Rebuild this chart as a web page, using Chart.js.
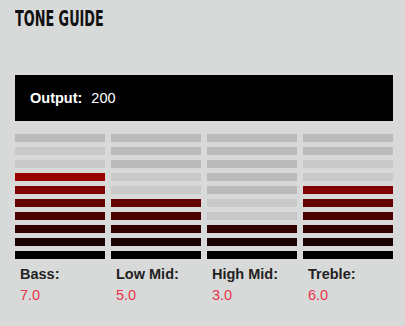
<!DOCTYPE html>
<html>
<head>
<meta charset="utf-8">
<script src="https://cdn.jsdelivr.net/npm/chart.js@4/dist/chart.umd.min.js"></script>
<style>
  html, body { margin: 0; padding: 0; }
  body { width: 405px; height: 326px; background: #d7dad9; position: relative; overflow: hidden;
         font-family: "Liberation Sans", Arial, sans-serif; }
  #title { position: absolute; left: 15px; top: 7px; font-family: "DejaVu Sans Condensed", "DejaVu Sans", sans-serif;
           font-weight: bold; font-size: 20.5px; color: #111; white-space: nowrap; transform-origin: 0 0; }
  #output { position: absolute; left: 15px; top: 75px; width: 378px; height: 46px; background: #000; color: #fff;
            font-size: 14.5px; line-height: 46px; box-sizing: border-box; padding-left: 15px; }
  #output b { margin-right: 9px; }
  #wrap { position: absolute; left: 12px; top: 131px; width: 384px; height: 130px; }
  #labels { position: absolute; left: 15px; top: 266px; display: flex; gap: 6px; }
  .cell { width: 90px; box-sizing: border-box; padding-left: 5px; font-size: 14.5px; }
  .cell .name { font-weight: bold; color: #222; line-height: 17px; }
  .cell .val { color: #e8334b; line-height: 17px; margin-top: 4px; }
</style>
</head>
<body>
<div id="title">TONE GUIDE</div>
<div id="output"><b>Output:</b><span id="outVal"></span></div>
<div id="wrap"><canvas id="toneChart"></canvas></div>
<div id="labels"></div>
<script>
var categories = ['Bass:', 'Low Mid:', 'High Mid:', 'Treble:'];
var toneValues = [7.0, 5.0, 3.0, 6.0];
var outputValue = 200;
var levels = [1, 2, 3, 4, 5, 6, 7, 8, 9, 10];

// squash the title to the narrow look of the original
var t = document.getElementById('title');
t.style.transform = 'scaleX(' + (89 / t.scrollWidth) + ')';

document.getElementById('outVal').textContent = outputValue;

var labelsDiv = document.getElementById('labels');
for (var i = 0; i < categories.length; i++) {
    var c = document.createElement('div');
    c.className = 'cell';
    c.innerHTML = '<div class="name">' + categories[i] + '</div><div class="val">' + toneValues[i].toFixed(1) + '</div>';
    labelsDiv.appendChild(c);
}

function segColor(level, value) {
    if (level <= value) return 'rgb(' + Math.round(25.5 * (level - 1)) + ',0,0)';
    if (level <= value + 2) return '#c8c9c8';
    return '#bbbbbb';
}

var datasets = [];
levels.forEach(function (lv) {
    datasets.push({
        label: 'Level ' + lv,
        data: categories.map(function () { return 1; }),
        backgroundColor: function (ctx) { return segColor(lv, toneValues[ctx.dataIndex]); },
        borderColor: 'rgba(0,0,0,0)',
        borderWidth: { top: 3, bottom: 2, left: 0, right: 0 },
        borderSkipped: false,
        inflateAmount: 0,
        barPercentage: 0.9375,
        categoryPercentage: 1
    });
});

new Chart(document.getElementById('toneChart'), {
    type: 'bar',
    data: { labels: categories, datasets: datasets },
    options: {
        responsive: true,
        maintainAspectRatio: false,
        animation: false,
        layout: { padding: 0 },
        plugins: { legend: { display: false }, tooltip: { enabled: false } },
        scales: {
            x: { stacked: true, display: false },
            y: { stacked: true, display: false, min: 0, max: 10 }
        }
    }
});
</script>
</body>
</html>
